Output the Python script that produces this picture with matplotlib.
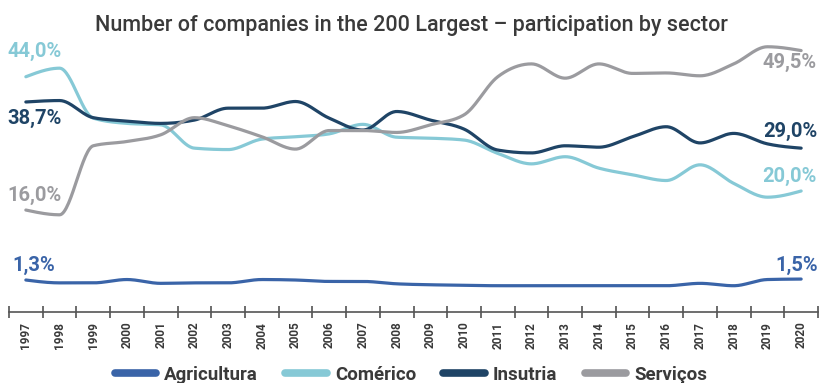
import numpy as np
import matplotlib.pyplot as plt
from matplotlib.lines import Line2D

plt.rcParams['font.family'] = ['Roboto', 'DejaVu Sans']

years = list(range(1997, 2021))
agricultura = [1.3, 0.7, 0.7, 1.4, 0.6, 0.7, 0.7, 1.4, 1.3, 1.0, 1.0, 0.5,
               0.3, 0.2, 0.1, 0.1, 0.1, 0.1, 0.1, 0.1, 0.6, 0.1, 1.4, 1.5]
comercio = [44.0, 45.8, 35.3, 34.2, 33.9, 29.0, 28.7, 30.9, 31.4, 32.0, 34.0, 31.3,
            31.1, 30.7, 27.9, 25.7, 27.2, 24.8, 23.4, 22.2, 25.5, 21.6, 18.7, 20.0]
industria = [38.7, 39.0, 35.4, 34.7, 34.2, 34.9, 37.4, 37.4, 38.8, 35.3, 32.8, 36.7,
             34.9, 33.0, 28.6, 28.0, 29.5, 29.2, 31.4, 33.5, 30.1, 32.1, 29.9, 29.0]
servicos = [16.0, 15.0, 29.5, 30.4, 31.8, 35.4, 33.7, 31.4, 28.8, 32.7, 32.7, 32.3,
            33.9, 36.0, 44.0, 46.7, 43.7, 46.7, 44.7, 44.8, 44.2, 46.7, 50.3, 49.5]

names = ['Agricultura', 'Comérico', 'Insutria', 'Serviços']
colors = ['#3a64a8', '#86c9d6', '#1f4466', '#9b9b9f']


# monotone cubic (like d3.curveMonotoneX) for smooth lines
def monotone(x, y, n=30):
    x = np.asarray(x, float)
    y = np.asarray(y, float)
    h = np.diff(x)
    s = np.diff(y) / h
    m = np.zeros_like(y)
    for i in range(1, len(y) - 1):
        p = (s[i-1] * h[i] + s[i] * h[i-1]) / (h[i-1] + h[i])
        m[i] = (np.sign(s[i-1]) + np.sign(s[i])) * min(abs(s[i-1]), abs(s[i]), 0.5 * abs(p))
    m[0] = (3 * s[0] - m[1]) / 2
    m[-1] = (3 * s[-1] - m[-2]) / 2
    xs, ys = [], []
    for i in range(len(x) - 1):
        t = np.linspace(0, 1, n, endpoint=False)
        h00 = 2*t**3 - 3*t**2 + 1
        h10 = t**3 - 2*t**2 + t
        h01 = -2*t**3 + 3*t**2
        h11 = t**3 - t**2
        xs.append(x[i] + t * h[i])
        ys.append(h00*y[i] + h10*h[i]*m[i] + h01*y[i+1] + h11*h[i]*m[i+1])
    xs.append([x[-1]])
    ys.append([y[-1]])
    return np.concatenate(xs), np.concatenate(ys)


def fmt(v):
    return ('%.1f%%' % v).replace('.', ',')


fig = plt.figure(figsize=(8.22, 3.83), dpi=100)
ax = fig.add_axes([9/822, 1 - 312/383, 809/822, 272/383])

pos = np.arange(len(years))
series = [agricultura, comercio, industria, servicos]
for vals, c, name in zip(series, colors, names):
    sx, sy = monotone(pos, vals)
    ax.plot(sx, sy, color=c, lw=2.3, solid_capstyle='round', label=name)

ax.set_xlim(-0.5, len(years) - 0.5)
ax.set_ylim(-5.42, 51.72)

# start / end labels
left_off = [(-9.5, 10.7), (-13, 18.5), (-13, -11.7), (-13, 10.8)]
right_off = [(12, 9.5), (11.5, 10.6), (11.5, 11.7), (11.5, -8.4)]
for vals, c, lo, ro in zip(series, colors, left_off, right_off):
    ax.annotate(fmt(vals[0]), (pos[0], vals[0]), xytext=lo, textcoords='offset points',
                ha='left', va='center', color=c, fontsize=14.5, fontweight='bold')
    ax.annotate(fmt(vals[-1]), (pos[-1], vals[-1]), xytext=ro, textcoords='offset points',
                ha='right', va='center', color=c, fontsize=14.5, fontweight='bold')

for sp in ['left', 'right', 'top']:
    ax.spines[sp].set_visible(False)
ax.spines['bottom'].set_color('#555555')
ax.spines['bottom'].set_linewidth(1.2)
ax.set_yticks([])

ax.set_xticks(np.arange(-0.5, len(years), 1.0))
ax.set_xticklabels([])
ax.tick_params(axis='x', which='major', direction='inout', length=9, width=1.1, color='#444444')
ax.set_xticks(pos, minor=True)
ax.set_xticklabels([str(y) for y in years], minor=True, rotation=90,
                   fontsize=8.5, fontweight='bold', color='#3a3a3a')
ax.tick_params(axis='x', which='minor', length=0, pad=7)

fig.text(0.5, 1 - 25/383, 'Number of companies in the 200 Largest – participation by sector',
         ha='center', va='center', fontsize=15.5, fontweight='medium', color='#3a3a3a')

handles = [Line2D([], [], color=c, lw=5.5, solid_capstyle='round') for c in colors]
leg = fig.legend(handles, names, loc='center', bbox_to_anchor=(0.5, 1 - 375/383), ncol=4,
                 frameon=False, handlelength=2.2, handletextpad=0.45, columnspacing=1.45,
                 prop={'size': 13.5, 'weight': 'bold'})
for t in leg.get_texts():
    t.set_color('#3a3a3a')

fig.savefig('out.png', dpi=100)
